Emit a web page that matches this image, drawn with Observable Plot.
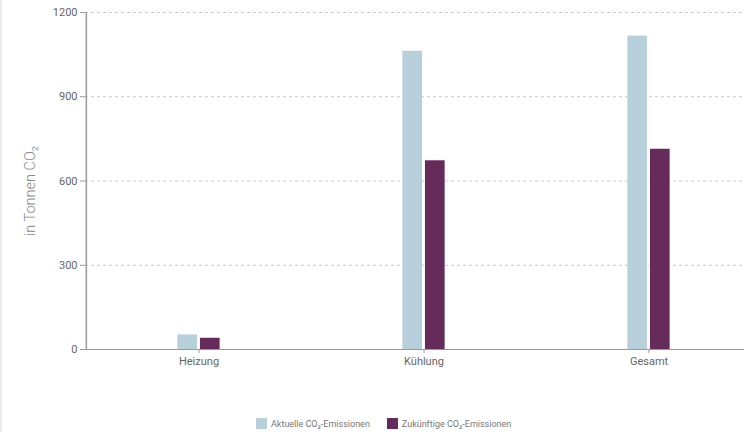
<!DOCTYPE html>
<html>
<head>
<meta charset="utf-8">
<script src="https://cdn.jsdelivr.net/npm/d3@7"></script>
<script src="https://cdn.jsdelivr.net/npm/@observablehq/plot@0.6"></script>
<style>
  html, body { margin: 0; padding: 0; background: #fff; overflow: hidden; }
  body { width: 744px; height: 432px; position: relative; font-family: Roboto, "Noto Sans", sans-serif; }
  #edge { position: absolute; left: 0; top: 0; width: 2px; height: 432px; background: #ececec; }
  #chart { width: 744px; overflow: hidden; }
  #chart svg { display: block; max-width: none !important; }
  #legend { position: absolute; top: 418px; left: 256px; display: flex; align-items: center; font-size: 9px; color: #777; white-space: nowrap; }
  #legend .item { display: flex; align-items: center; margin-right: 17px; }
  #legend .sw { width: 11px; height: 11px; margin-right: 4px; }
</style>
</head>
<body>
<div id="edge"></div>
<div id="chart"></div>
<div id="legend"></div>
<script>
const categories = ["Heizung", "Kühlung", "Gesamt"];
const seriesNames = ["Aktuelle CO₂-Emissionen", "Zukünftige CO₂-Emissionen"];
const aktuell = [52, 1062, 1116];
const zukuenftig = [40, 672, 713];
const yTicks = [0, 300, 600, 900, 1200];
const colors = ["#b8cfdc", "#662a5b"];

const dataA = categories.map((c, i) => ({cat: c, value: aktuell[i]}));
const dataB = categories.map((c, i) => ({cat: c, value: zukuenftig[i]}));

const W = 761, bw = (W - 85) / 3, barW = 20, inset = (bw - barW) / 2;

const chart = Plot.plot({
  width: W,
  height: 400,
  marginLeft: 85,
  marginRight: 0,
  marginTop: 12,
  marginBottom: 51,
  style: {fontFamily: "Roboto, 'Noto Sans', sans-serif", background: "transparent", overflow: "visible", maxWidth: "none"},
  x: {domain: categories, padding: 0},
  y: {domain: [0, 1200]},
  marks: [
    Plot.gridY(yTicks.slice(1), {stroke: "#bbb", strokeOpacity: 1, strokeDasharray: "3,3", strokeWidth: 0.8}),
    Plot.barY(dataA, {x: "cat", y: "value", fill: colors[0], insetLeft: inset, insetRight: inset, dx: -11.3}),
    Plot.barY(dataB, {x: "cat", y: "value", fill: colors[1], insetLeft: inset, insetRight: inset, dx: 11.3}),
    Plot.ruleY([0], {stroke: "#999", strokeWidth: 1.2}),
    Plot.axisY({ticks: yTicks, tickSize: 5, tickPadding: 3, stroke: "#999", fill: "#666", fontSize: 11, label: null, tickFormat: d => String(d)}),
    Plot.axisX({tickSize: 4, tickPadding: 4, stroke: "#999", fill: "#666", fontSize: 11, label: null}),
    Plot.ruleX([categories[0]], {y1: 0, y2: 1200, dx: -bw / 2, stroke: "#999", strokeWidth: 1.5}),
    Plot.text(["in Tonnen CO₂"], {frameAnchor: "left", textAnchor: "middle", rotate: -90, dx: -55, dy: 10, fontSize: 14.5, fill: "#888", fontWeight: 300})
  ]
});
document.getElementById("chart").appendChild(chart);

const legend = document.getElementById("legend");
seriesNames.forEach((name, i) => {
  const item = document.createElement("div");
  item.className = "item";
  const sw = document.createElement("div");
  sw.className = "sw";
  sw.style.background = colors[i];
  const t = document.createElement("span");
  t.textContent = name;
  item.appendChild(sw);
  item.appendChild(t);
  legend.appendChild(item);
});
</script>
</body>
</html>
